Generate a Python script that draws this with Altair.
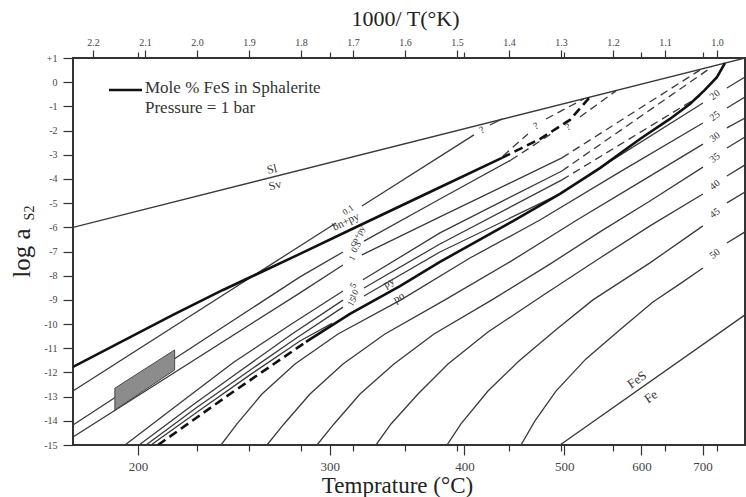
import altair as alt
import pandas as pd

FONT = "Liberation Serif"

# ---- axes -------------------------------------------------------------
TEMP_TICKS_C = [200, 300, 400, 500, 600, 700]
INV_T_TICKS = [2.2, 2.1, 2.0, 1.9, 1.8, 1.7, 1.6, 1.5, 1.4, 1.3, 1.2, 1.1, 1.0]
INV_T_MINOR = [2.0, 1.9, 1.8, 1.7, 1.6, 1.5, 1.4, 1.3, 1.2, 1.1, 1.0]
LOG_TICKS = list(range(-15, 2))
X_DOMAIN = [0.946, 2.2385]      # 1000/T(K)
Y_DOMAIN = [-15, 1]             # log aS2

# ---- curves: (1000/T, log aS2) ; each list = one drawn segment ---------
SL_SV = [[(2.2385, -6.0), (0.946, 1.0)]]

BN_PY = [[(2.2385, -11.77), (2.0462, -9.62), (1.95, -8.59), (1.8019, -7.10),
          (1.7058, -6.11), (1.5519, -4.54), (1.4135, -3.13)]]
BN_PY_DASH = [[(1.4135, -3.13), (1.3404, -2.35), (1.2827, -1.56), (1.2442, -0.61)]]

PY_PO_DASH = [[(2.075, -15.0), (1.9365, -12.89), (1.7904, -10.74)]]
PY_PO = [[(1.7904, -10.74), (1.7058, -9.58), (1.6096, -8.43), (1.5327, -7.43),
          (1.3923, -5.74), (1.3019, -4.62), (1.225, -3.55), (1.148, -2.35),
          (1.0904, -1.52), (1.0519, -0.90), (1.0231, -0.32), (1.0, 0.21), (0.9846, 0.79)]]

ISO_0_1 = [[(2.2385, -12.77), (1.7327, -5.82)],
           [(1.6827, -5.12), (1.4673, -2.18)],
           [(1.4365, -1.77), (1.4135, -1.52)]]
ISO_0_5 = [[(2.2385, -14.17), (1.8019, -8.05), (1.7192, -7.02)],
           [(1.6788, -6.57), (1.5327, -4.83), (1.3962, -3.22)]]
ISO_0_5_DASH = [[(1.3962, -3.22), (1.3192, -2.14)],
                [(1.2635, -1.44), (1.1942, -0.36)]]
ISO_1 = [[(2.2385, -14.67), (1.8019, -8.71), (1.7192, -7.56)],
         [(1.6827, -7.14), (1.5327, -5.57), (1.2981, -3.13)]]
ISO_1_DASH = [[(1.2981, -3.13), (1.0327, 0.50)]]
ISO_5 = [[(2.1385, -15.0), (2.0327, -13.26), (1.9288, -11.57), (1.8212, -10.04), (1.7192, -8.63)],
         [(1.6808, -8.17), (1.5327, -6.23), (1.2981, -3.67)]]
ISO_5_DASH = [[(1.2981, -3.67), (1.0096, 0.63)]]
ISO_10 = [[(2.1115, -15.0), (2.0135, -13.43), (1.9173, -11.94), (1.8173, -10.41), (1.7192, -9.01)],
          [(1.6788, -8.51), (1.5327, -6.69), (1.2981, -4.04)]]
ISO_10_DASH = [[(1.2981, -4.04), (1.0327, -0.57)]]
ISO_15 = [[(2.0981, -15.0), (2.0019, -13.47), (1.9058, -12.02), (1.8115, -10.62), (1.7192, -9.30)],
          [(1.6788, -8.84), (1.5327, -7.02), (1.3019, -4.62)]]
ISO_X = [[(2.0885, -15.0), (1.9942, -13.55), (1.8981, -12.10), (1.8019, -10.70), (1.7404, -9.97)]]
UPPER_DASH = [[(1.4115, -3.05), (1.3635, -2.14)],
              [(1.3288, -1.52), (1.2558, -0.69)]]

ISO_20 = [[(1.2442, -3.80), (1.0269, -0.86)],
          [(0.9808, -0.24), (0.946, 0.21)]]
ISO_25 = [[(1.9538, -15.0), (1.9231, -14.13), (1.875, -12.89), (1.8115, -11.65),
           (1.7288, -10.41), (1.6077, -9.0), (1.475, -7.27), (1.3404, -5.70),
           (1.1865, -3.71), (1.0269, -1.69)],
          [(0.9808, -1.07), (0.946, -0.61)]]
ISO_30 = [[(1.8654, -15.0), (1.8327, -14.13), (1.7827, -12.89), (1.7192, -11.65),
           (1.6385, -10.41), (1.5231, -9.0), (1.3981, -7.43), (1.2692, -5.70),
           (1.148, -4.13), (1.0269, -2.56)],
          [(0.9808, -1.89), (0.946, -1.48)]]
ISO_35 = [[(1.7692, -15.0), (1.7365, -14.13), (1.6865, -12.89), (1.6212, -11.65),
           (1.5442, -10.41), (1.4327, -9.0), (1.3212, -7.52), (1.225, -6.19),
           (1.1288, -4.91), (1.0269, -3.51)],
          [(0.9808, -2.72), (0.946, -2.27)]]
ISO_40 = [[(1.6558, -15.0), (1.6269, -14.13), (1.575, -12.89), (1.5173, -11.65),
           (1.4404, -10.33), (1.3365, -8.84), (1.225, -7.27), (1.1288, -5.94),
           (1.0269, -4.62)],
          [(0.9808, -3.88), (0.946, -3.42)]]
ISO_45 = [[(1.5192, -15.0), (1.4923, -14.13), (1.4404, -12.77), (1.3808, -11.53),
           (1.3096, -10.24), (1.2385, -9.0), (1.1288, -7.47), (1.0269, -5.94)],
          [(0.9808, -4.99), (0.946, -4.54)]]
ISO_50 = [[(1.3769, -15.0), (1.35, -14.0), (1.3096, -12.77), (1.2519, -11.44),
           (1.1865, -10.24), (1.1231, -9.09), (1.0712, -8.34), (1.0269, -7.68)],
          [(0.9808, -6.65), (0.946, -6.19)]]
FES_FE = [[(1.3019, -15.0), (0.946, -9.62)]]

# shaded field (parallelogram)
BOX_X = [2.158, 2.043]
BOX_LO = [-13.55, -11.90]
BOX_HI = [-12.65, -11.07]

# labels: text, 1000/T, log aS2, angle, font size
LABELS = [
    ("Sl", 1.8558, -3.59, 346, 12), ("Sv", 1.850, -4.25, 346, 12),
    ("0.1", 1.7096, -5.28, 325, 9), ("bn+py", 1.7135, -5.78, 334, 11),
    ("cp+py", 1.6923, -6.36, 300, 9), ("0.5", 1.6942, -6.81, 300, 9),
    ("1", 1.7019, -7.27, 300, 9), ("5", 1.700, -8.40, 300, 9),
    ("10", 1.698, -8.76, 300, 9), ("15", 1.7019, -9.07, 300, 9),
    ("py", 1.6308, -8.30, 330, 11), ("po", 1.6115, -8.92, 330, 11),
    ("?", 1.4519, -1.98, 330, 10), ("?", 1.3481, -1.81, 330, 10),
    ("?", 1.2865, -1.85, 330, 10),
    ("20", 1.0038, -0.53, 322, 10), ("25", 1.0038, -1.40, 322, 10),
    ("30", 1.0038, -2.27, 322, 10), ("35", 1.0038, -3.13, 322, 10),
    ("40", 1.0038, -4.25, 322, 10), ("45", 1.0038, -5.41, 322, 10),
    ("50", 1.0038, -7.10, 322, 10),
    ("FeS", 1.1538, -12.31, 325, 13), ("Fe", 1.1269, -13.01, 325, 13),
]

CURVES = [
    ("slsv", "thin", SL_SV), ("bnpy", "thick", BN_PY), ("bnpyd", "thick_dash", BN_PY_DASH),
    ("pypod", "thick_dash", PY_PO_DASH), ("pypo", "thick", PY_PO),
    ("i01", "thin", ISO_0_1), ("i05", "thin", ISO_0_5), ("i05d", "thin_dash", ISO_0_5_DASH),
    ("i1", "thin", ISO_1), ("i1d", "thin_dash", ISO_1_DASH),
    ("i5", "thin", ISO_5), ("i5d", "thin_dash", ISO_5_DASH),
    ("i10", "thin", ISO_10), ("i10d", "thin_dash", ISO_10_DASH),
    ("i15", "thin", ISO_15), ("ix", "thin", ISO_X), ("ud", "thin_dash", UPPER_DASH),
    ("i20", "thin", ISO_20), ("i25", "thin", ISO_25), ("i30", "thin", ISO_30),
    ("i35", "thin", ISO_35), ("i40", "thin", ISO_40), ("i45", "thin", ISO_45),
    ("i50", "thin", ISO_50), ("fes", "thin", FES_FE),
]

rows = []
for name, style, segs in CURVES:
    for si, seg in enumerate(segs):
        for pi, (xv, yv) in enumerate(seg):
            rows.append({"seg": f"{name}-{si}", "ord": pi, "x": xv, "y": yv, "style": style})
df = pd.DataFrame(rows)

lab_df = pd.DataFrame(LABELS, columns=["t", "x", "y", "a", "s"])
box_df = pd.DataFrame({"x": BOX_X, "lo": BOX_LO, "hi": BOX_HI})

xs = alt.Scale(domain=X_DOMAIN, reverse=True, zero=False, nice=False)
ys = alt.Scale(domain=Y_DOMAIN, zero=False, nice=False)


def line_layer(style, **mk):
    return alt.Chart(df).transform_filter(alt.datum.style == style).mark_line(
        clip=True, **mk
    ).encode(
        x=alt.X("x:Q", scale=xs, axis=None),
        y=alt.Y("y:Q", scale=ys, axis=None),
        detail="seg:N",
        order="ord:Q",
    )


thin = line_layer("thin", color="#3a3a3a", strokeWidth=1.3)
thin_d = line_layer("thin_dash", color="#3a3a3a", strokeWidth=1.3, strokeDash=[8, 5])
thick = line_layer("thick", color="#111111", strokeWidth=2.6)
thick_d = line_layer("thick_dash", color="#111111", strokeWidth=2.6, strokeDash=[9, 5])

box = alt.Chart(box_df).mark_area(fill="#8c8c8c", stroke="#4a4a4a", strokeWidth=1, fillOpacity=1).encode(
    x=alt.X("x:Q", scale=xs, axis=None),
    y=alt.Y("lo:Q", scale=ys, axis=None),
    y2="hi:Q",
)

labels = alt.Chart(lab_df).mark_text(font=FONT, color="#333333").encode(
    x=alt.X("x:Q", scale=xs, axis=None),
    y=alt.Y("y:Q", scale=ys, axis=None),
    text="t:N",
    angle=alt.Angle("a:Q", scale=None),
    size=alt.Size("s:Q", scale=None, legend=None),
)


def x_axis_layer(vals, **axis_kw):
    return alt.Chart(pd.DataFrame({"x": vals})).mark_point(opacity=0).encode(
        x=alt.X("x:Q", scale=xs, axis=alt.Axis(values=vals, grid=False, domain=False,
                                                tickColor="#333333", tickWidth=1.2, **axis_kw)),
        y=alt.value(0),
    )


temp_pos = [1000.0 / (t + 273.15) for t in TEMP_TICKS_C]

xb_major = x_axis_layer(
    temp_pos, orient="bottom", tickSize=10,
    labelExpr="format(1000 / datum.value - 273.15, '.0f')",
    labelFont=FONT, labelFontSize=13, labelColor="#444444", labelPadding=5,
    title="Temprature (°C)", titleFont=FONT, titleFontSize=23, titleFontWeight="normal",
    titleColor="#222222", titlePadding=1, titleX=324,
)
xb_minor = x_axis_layer(INV_T_MINOR, orient="bottom", tickSize=6, labels=False, title="")
xt_major = x_axis_layer(
    INV_T_TICKS, orient="top", tickSize=8, format=".1f",
    labelFont=FONT, labelFontSize=10, labelColor="#444444", labelPadding=3,
    title="1000/ T(°K)", titleFont=FONT, titleFontSize=22, titleFontWeight="normal",
    titleColor="#222222", titlePadding=7, titleX=332,
)
xt_minor = x_axis_layer(temp_pos, orient="top", tickSize=6, labels=False, title="")

yax = alt.Chart(pd.DataFrame({"y": LOG_TICKS})).mark_point(opacity=0).encode(
    x=alt.value(0),
    y=alt.Y("y:Q", scale=ys, axis=alt.Axis(
        orient="left", values=LOG_TICKS, grid=False, domain=False, tickSize=10,
        tickColor="#333333", tickWidth=1.2,
        labelExpr="(datum.value > 0 ? '+' : (datum.value < 0 ? '-' : '')) + abs(datum.value)",
        labelFont=FONT, labelFontSize=10, labelColor="#444444", labelPadding=6, title="")),
)

one = pd.DataFrame({"a": [0]})
leg_line = alt.Chart(one).mark_rule(color="#111111", strokeWidth=2.5).encode(
    x=alt.value(36), x2=alt.value(69), y=alt.value(32))
leg_t1 = alt.Chart(one).mark_text(text="Mole % FeS in Sphalerite", font=FONT, fontSize=17,
                                  align="left", baseline="middle", color="#333333").encode(
    x=alt.value(72), y=alt.value(30))
leg_t2 = alt.Chart(one).mark_text(text="Pressure = 1 bar", font=FONT, fontSize=17,
                                  align="left", baseline="middle", color="#333333").encode(
    x=alt.value(72), y=alt.value(50))
ytitle = alt.Chart(one).mark_text(text="log a", font=FONT, fontSize=25, angle=270,
                                  align="center", baseline="middle", color="#222222").encode(
    x=alt.value(-51), y=alt.value(195))
ysub = alt.Chart(one).mark_text(text="S2", font=FONT, fontSize=14, angle=270,
                                align="center", baseline="middle", color="#222222").encode(
    x=alt.value(-43), y=alt.value(155))

chart = alt.layer(
    yax, xb_major, xb_minor, xt_major, xt_minor,
    thin, thin_d, thick, thick_d, box, labels,
    leg_line, leg_t1, leg_t2, ytitle, ysub,
).resolve_axis(x="independent", y="independent").properties(
    width=672, height=387,
    padding={"left": 73, "top": 58, "right": 1, "bottom": 52},
    autosize=alt.AutoSizeParams(type="none"),
).configure_view(stroke="#333333", strokeWidth=2)

chart.save("out.html", embed_options={"renderer": "svg", "actions": False})
